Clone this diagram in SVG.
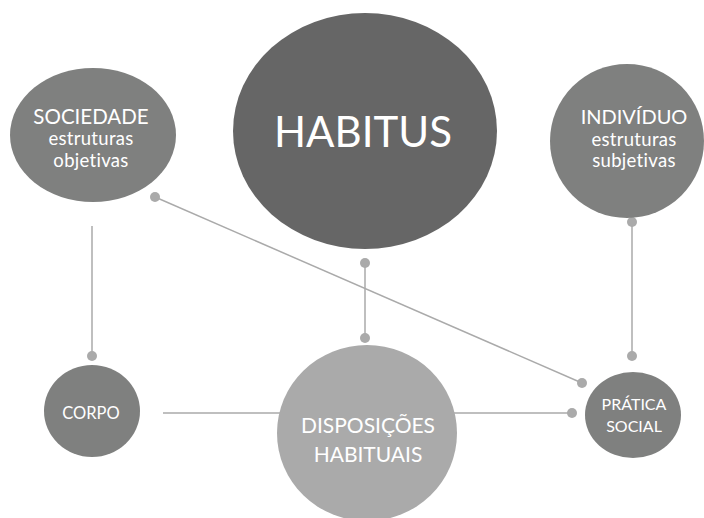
<svg xmlns="http://www.w3.org/2000/svg" width="704" height="518" viewBox="0 0 704 518">
<style>
.mid{fill:#7f807f}
.dark{fill:#666666}
.light{fill:#aaaaaa}
.t{fill:#ffffff;font-family:Lato,"Open Sans","DejaVu Sans",sans-serif;text-anchor:middle;font-variant-ligatures:none}
.s{font-size:18.5px;letter-spacing:0.3px}
.ln{stroke:#aaaaaa;stroke-width:1.5;fill:none}
.dot{fill:#aaaaaa}
</style>
<rect width="704" height="518" fill="#ffffff"/>
<g id="connectors">
<line class="ln" x1="92" y1="226" x2="92" y2="356"/>
<circle class="dot" cx="92" cy="356" r="5"/>
<line class="ln" x1="155" y1="197" x2="582" y2="383"/>
<circle class="dot" cx="155" cy="197" r="5"/>
<circle class="dot" cx="582" cy="383" r="5"/>
<line class="ln" x1="365" y1="263" x2="365" y2="338"/>
<circle class="dot" cx="365" cy="263" r="5"/>
<circle class="dot" cx="365" cy="338" r="5"/>
<line class="ln" x1="632" y1="222" x2="632" y2="356"/>
<circle class="dot" cx="632" cy="222" r="5"/>
<circle class="dot" cx="632" cy="356" r="5"/>
<line class="ln" x1="163" y1="413" x2="572" y2="413"/>
<circle class="dot" cx="572" cy="413" r="5"/>
</g>
<g id="sociedade">
<ellipse class="mid" cx="93" cy="135" rx="83" ry="67"/>
<text class="t" x="91" y="124" font-size="20.5">SOCIEDADE</text>
<text class="t s" x="91" y="145">estruturas</text>
<text class="t s" x="91" y="167">objetivas</text>
</g>
<g id="habitus">
<ellipse class="dark" cx="365" cy="131" rx="132" ry="118"/>
<text class="t" x="363" y="147" font-size="42">HABITUS</text>
</g>
<g id="individuo">
<ellipse class="mid" cx="627" cy="141" rx="77" ry="77"/>
<text class="t" x="634" y="124" font-size="20">INDIVÍDUO</text>
<text class="t s" x="634" y="146">estruturas</text>
<text class="t s" x="634" y="167">subjetivas</text>
</g>
<g id="corpo">
<ellipse class="mid" cx="92" cy="411" rx="48" ry="46"/>
<text class="t" x="91" y="419" font-size="16.5">CORPO</text>
</g>
<g id="disposicoes">
<ellipse class="light" cx="367" cy="433" rx="90" ry="88"/>
<text class="t" x="368" y="433" font-size="21">DISPOSIÇÕES</text>
<text class="t" x="368" y="462" font-size="21">HABITUAIS</text>
</g>
<g id="pratica">
<ellipse class="mid" cx="633" cy="415" rx="48" ry="43"/>
<text class="t" x="634" y="410" font-size="16">PRÁTICA</text>
<text class="t" x="634" y="432" font-size="16">SOCIAL</text>
</g>
</svg>
